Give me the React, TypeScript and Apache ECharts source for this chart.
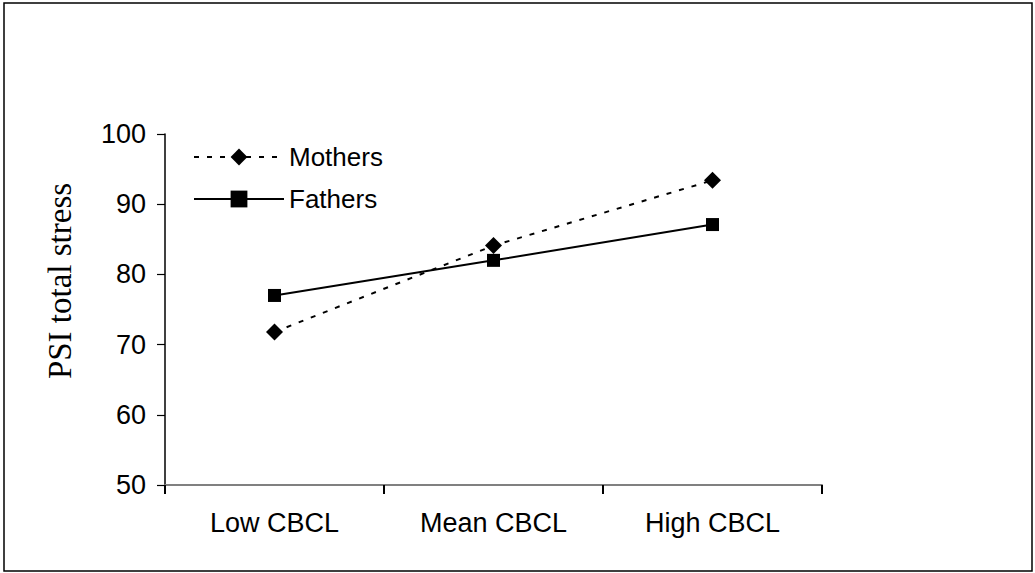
import React, { useEffect, useRef } from "react";
import * as echarts from "echarts";

const categories = ["Low CBCL", "Mean CBCL", "High CBCL"];
const mothers = [71.8, 84.1, 93.4];
const fathers = [77, 82, 87.1];
const yTicks = { min: 50, max: 100, interval: 10 };
const yTitle = "PSI total stress";

export default function App() {
  const ref = useRef<HTMLDivElement>(null);
  useEffect(() => {
    const chart = echarts.init(ref.current!, null, { renderer: "svg" });
    chart.setOption({
      animation: false,
      backgroundColor: "#ffffff",
      grid: { left: 165, right: 213, top: 134, bottom: 88 },
      graphic: [
        {
          type: "rect",
          shape: { x: 4, y: 3, width: 1028, height: 568 },
          style: { fill: "none", stroke: "#000", lineWidth: 1.5 },
          silent: true,
        },
        {
          type: "text",
          x: 60,
          y: 281,
          rotation: Math.PI / 2,
          style: {
            text: yTitle,
            font: "33px 'Liberation Serif'",
            fill: "#000",
            align: "center",
            verticalAlign: "middle",
          },
        },
      ],
      legend: {
        left: 188,
        top: 139,
        orient: "vertical",
        itemWidth: 90,
        itemHeight: 21,
        itemGap: 16,
        textStyle: {
          fontFamily: "Liberation Sans",
          fontSize: 26,
          color: "#000",
        },
        data: ["Mothers", "Fathers"],
      },
      xAxis: {
        type: "category",
        data: categories,
        boundaryGap: true,
        axisLine: { lineStyle: { color: "#808080", width: 2 } },
        axisTick: { show: true, length: 9, lineStyle: { color: "#000", width: 2 } },
        axisLabel: {
          fontFamily: "Liberation Sans",
          fontSize: 27,
          color: "#000",
          margin: 24,
        },
      },
      yAxis: {
        type: "value",
        min: yTicks.min,
        max: yTicks.max,
        interval: yTicks.interval,
        splitLine: { show: false },
        axisLine: { show: true, lineStyle: { color: "#000", width: 1.5 } },
        axisTick: { show: true, length: 8, lineStyle: { color: "#000", width: 1.2 } },
        axisLabel: {
          fontFamily: "Liberation Sans",
          fontSize: 27,
          color: "#000",
          margin: 19,
        },
      },
      series: [
        {
          name: "Mothers",
          type: "line",
          data: mothers,
          symbol: "diamond",
          symbolSize: 17,
          itemStyle: { color: "#000" },
          lineStyle: { color: "#000", width: 2, type: [5, 8] },
        },
        {
          name: "Fathers",
          type: "line",
          data: fathers,
          symbol: "rect",
          symbolSize: 13,
          itemStyle: { color: "#000" },
          lineStyle: { color: "#000", width: 2, type: "solid" },
        },
      ],
    });
    return () => chart.dispose();
  }, []);
  return (
    <div
      ref={ref}
      style={{ position: "fixed", left: 0, top: 0, width: 1035, height: 573 }}
    />
  );
}
